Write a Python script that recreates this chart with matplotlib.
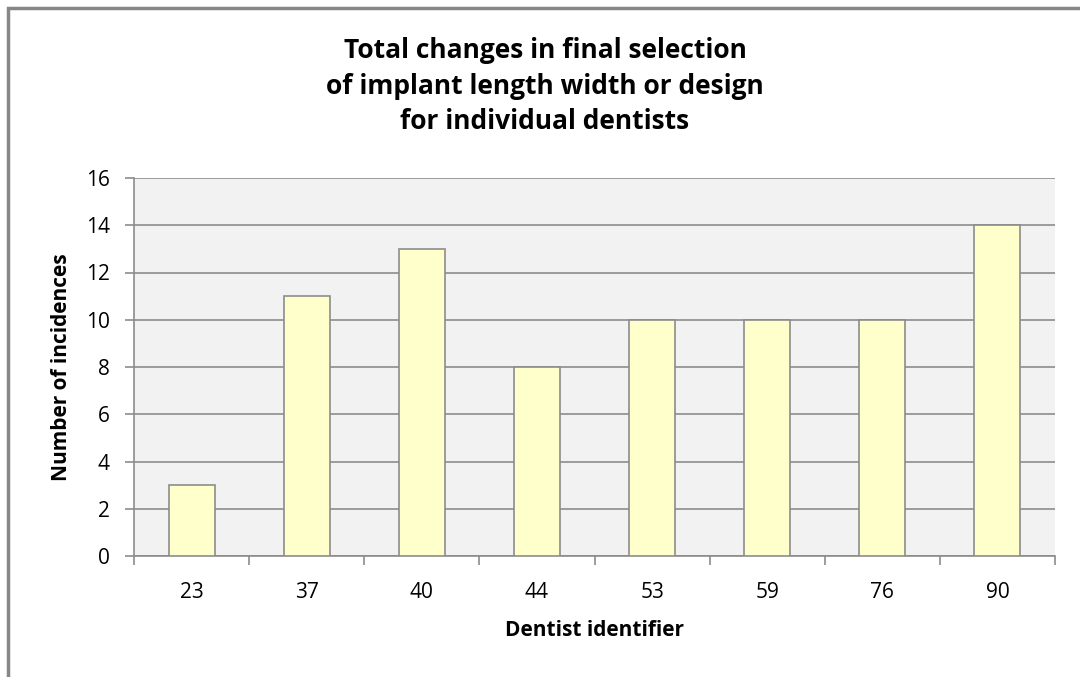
import matplotlib.pyplot as plt
from matplotlib.patches import Rectangle

dentists = ['23', '37', '40', '44', '53', '59', '76', '90']
incidences = [3, 11, 13, 8, 10, 10, 10, 14]

plt.rcParams['font.family'] = ['Open Sans', 'DejaVu Sans']

fig = plt.figure(figsize=(10.8, 6.77), dpi=100)
# chart frame (cut off at right and bottom like the original)
fig.patches.append(Rectangle((8 / 1080, -0.05), 1.2, 1 - 8 / 677 + 0.05,
                             transform=fig.transFigure, fill=False,
                             edgecolor='#878787', linewidth=2.5))

ax = fig.add_axes([134 / 1080, 1 - 556 / 677, (1055 - 134) / 1080, (556 - 178) / 677])
ax.set_facecolor('#f2f2f2')

x = range(len(dentists))
ax.bar(x, incidences, width=0.4, color='#ffffcc', edgecolor='#8c8c8c', linewidth=1.2, zorder=3)

ax.set_xlim(-0.5, len(dentists) - 0.5)
ax.set_ylim(0, 16)
ax.set_yticks(range(0, 17, 2))
ax.set_xticks(list(x))
ax.set_xticklabels(dentists)
ax.set_xticks([i + 0.5 for i in range(-1, len(dentists))], minor=True)
ax.yaxis.grid(True, color='#8c8c8c', linewidth=1.2, zorder=0)
ax.set_axisbelow(True)

for s in ['top', 'right']:
    ax.spines[s].set_visible(False)
for s in ['left', 'bottom']:
    ax.spines[s].set_color('#8c8c8c')
    ax.spines[s].set_linewidth(1.2)

ax.tick_params(axis='y', length=6.5, width=1.2, color='#8c8c8c', labelsize=15, pad=11)
ax.tick_params(axis='x', which='major', length=0, labelsize=15, pad=19)
ax.tick_params(axis='x', which='minor', length=6.5, width=1.2, color='#8c8c8c')

ax.set_xlabel('Dentist identifier', fontsize=15, fontweight='bold', labelpad=12)
ax.set_ylabel('Number of incidences', fontsize=15, fontweight='bold', labelpad=10)

fig.text(545 / 1080, 1 - 86 / 677,
         'Total changes in final selection\nof implant length width or design\nfor individual dentists',
         ha='center', va='center', fontsize=19, fontweight='bold', linespacing=1.42)

fig.savefig('out.png', dpi=100)
